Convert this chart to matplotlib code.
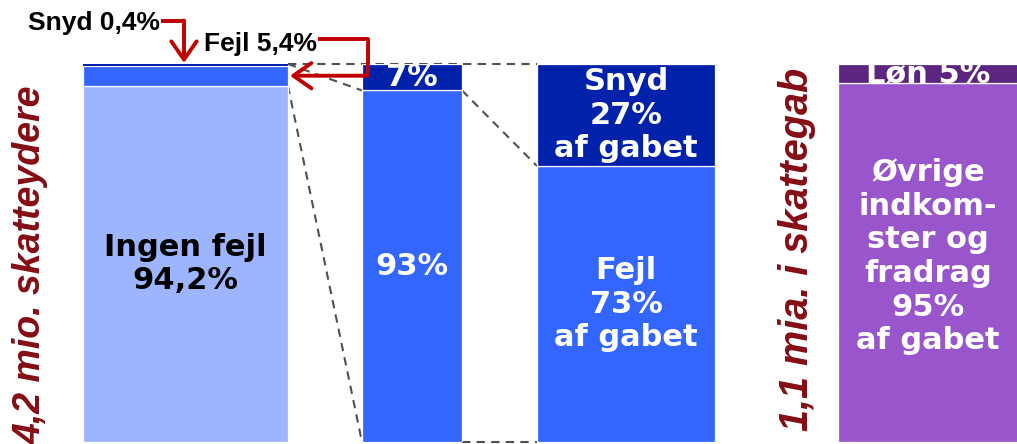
import matplotlib.pyplot as plt

# data
bar1 = {'Ingen fejl': 94.2, 'Fejl': 5.4, 'Snyd': 0.4}
bar2 = {'Fejl': 93, 'Snyd': 7}
bar3 = {'Fejl': 73, 'Snyd': 27}
bar4 = {'Øvrige': 95, 'Løn': 5}

x_pos = [185.5, 412, 626, 928]
widths = [205, 100, 178, 180]

light = '#9DB4FF'
mid = '#3366FF'
dark = '#0022AA'
purple = '#9955CC'
dpurple = '#5C2680'
red = '#C00000'
dred = '#850C14'

fig = plt.figure(figsize=(10.17, 4.44), dpi=100)
ax = fig.add_axes([0, 2 / 444, 1, 378 / 444])
ax.set_xlim(0, 1017)
ax.set_ylim(0, 100)
ax.axis('off')

def stack(x, w, vals, colors):
    bottom = 0
    for v, c in zip(vals, colors):
        lw = 0 if v < 1 else 0.9
        ax.bar(x, v, width=w, bottom=bottom, color=c, edgecolor='white', linewidth=lw, zorder=3)
        bottom += v

stack(x_pos[0], widths[0], list(bar1.values()), [light, mid, dark])
stack(x_pos[1], widths[1], list(bar2.values()), [mid, dark])
stack(x_pos[2], widths[2], list(bar3.values()), [mid, dark])
stack(x_pos[3], widths[3], list(bar4.values()), [purple, dpurple])

# dashed connector lines
def edge(i, side):
    return x_pos[i] + side * widths[i] / 2

dash = dict(color='#505050', lw=1.5, ls=(0, (4, 3)), zorder=1, clip_on=False)
ax.plot([edge(0, 1), edge(2, -1)], [100, 100], **dash)
ax.plot([edge(0, 1), edge(1, -1)], [100, bar2['Fejl']], **dash)
ax.plot([edge(0, 1), edge(1, -1)], [bar1['Ingen fejl'], 0], **dash)
ax.plot([edge(1, 1), edge(2, -1)], [bar2['Fejl'], bar3['Fejl']], **dash)
ax.plot([edge(1, 1), edge(2, -1)], [0, 0], **dash)

# labels inside bars
fs = 22
tk = dict(ha='center', va='center', fontsize=fs, fontweight='bold', family='DejaVu Sans',
          linespacing=1.2, zorder=5)
ax.text(x_pos[0], bar1['Ingen fejl'] / 2, 'Ingen fejl\n94,2%', color='black', **tk)
ax.text(x_pos[1], bar2['Fejl'] / 2, '93%', color='white', **tk)
ax.text(x_pos[1], bar2['Fejl'] + bar2['Snyd'] / 2, '7%', color='white', **tk)
ax.text(x_pos[2], bar3['Fejl'] / 2, 'Fejl\n73%\naf gabet', color='white', **tk)
ax.text(x_pos[2], bar3['Fejl'] + bar3['Snyd'] / 2, 'Snyd\n27%\naf gabet', color='white', **tk)
ax.text(x_pos[3], bar4['Øvrige'] / 2 + 1.5, 'Øvrige\nindkom-\nster og\nfradrag\n95%\naf gabet',
        color='white', **tk)
ax.text(x_pos[3], bar4['Øvrige'] + bar4['Løn'] / 2, 'Løn 5%', color='white', **tk)

# side titles
side = dict(rotation=90, ha='center', va='center', fontweight='bold',
            style='italic', family='Liberation Sans', color=dred)
ax.text(31, 47, '4,2 mio. skatteydere', fontsize=27, **side)
ax.text(797, 51, '1,1 mia. i skattegab', fontsize=28.5, **side)

# callouts
ann = dict(fontsize=19, fontweight='bold', family='Liberation Sans', color='black',
           va='center', clip_on=False)
ax.text(28, 110.8, 'Snyd 0,4%', ha='left', **ann)
ax.text(204, 105.3, 'Fejl 5,4%', ha='left', **ann)

aline = dict(color=red, lw=2.8, solid_capstyle='butt', clip_on=False, zorder=6)
arr = dict(arrowstyle='->, head_length=0.5, head_width=0.35', color=red, lw=2.8,
           mutation_scale=26, shrinkA=0, shrinkB=0)
ax.plot([161, 184], [111.5, 111.5], **aline)
ax.annotate('', xy=(184, 100.3), xytext=(184, 111.5), arrowprops=arr, annotation_clip=False)
ax.plot([318, 368, 368], [106.5, 106.5, 96.9], **aline)
ax.annotate('', xy=(edge(0, 1) + 2, 96.9), xytext=(368, 96.9), arrowprops=arr,
            annotation_clip=False)

fig.savefig('out.png', dpi=100)
